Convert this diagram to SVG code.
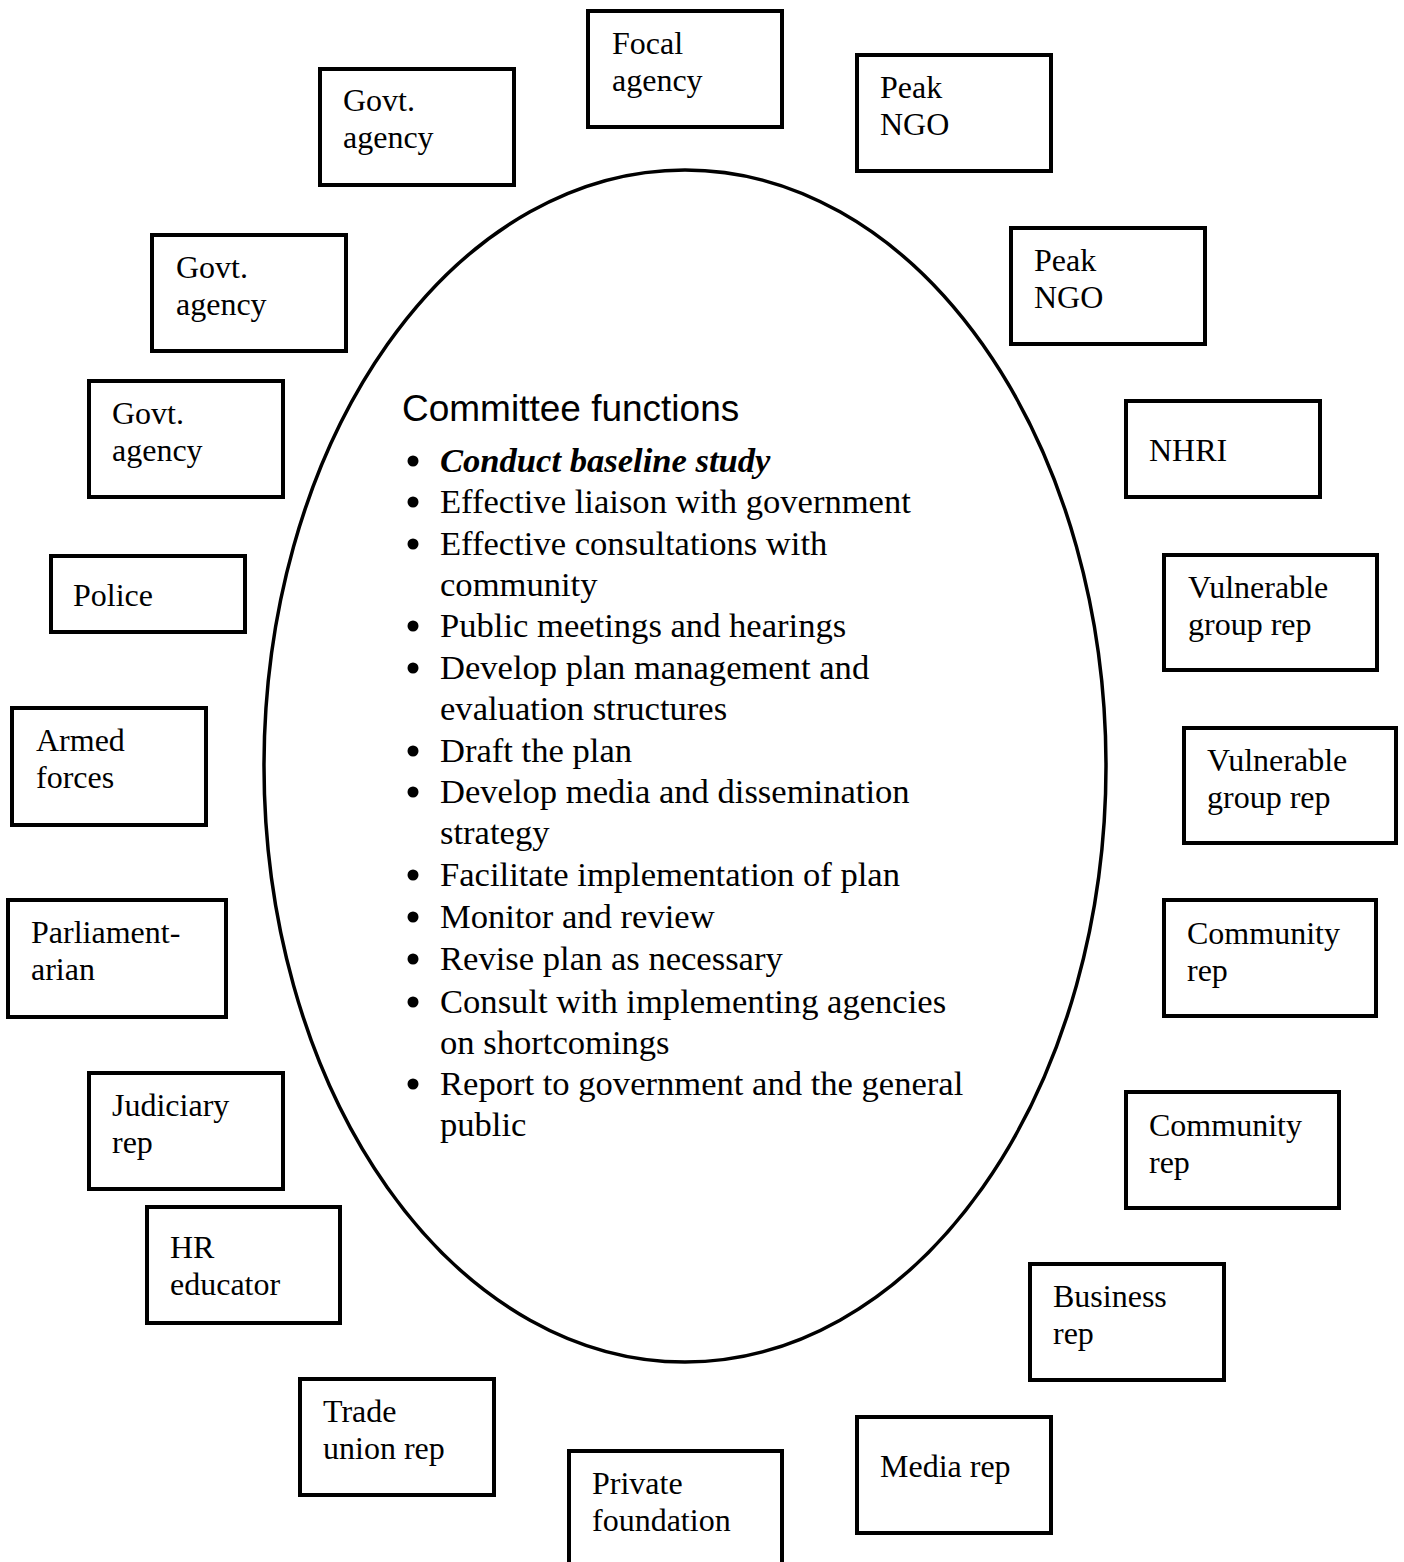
<svg xmlns="http://www.w3.org/2000/svg" width="1404" height="1562" viewBox="0 0 1404 1562">
<style>
.box{fill:#fff;stroke:#000;stroke-width:4}
.bt{font-family:"Liberation Serif","Times New Roman",serif;font-size:32px;fill:#000}
.li{font-family:"Liberation Serif","Times New Roman",serif;font-size:34.6px;fill:#000}
.bi{font-weight:bold;font-style:italic}
.title{font-family:"Liberation Sans",Arial,sans-serif;font-size:37px;fill:#000}
.dot{fill:#000}
</style>
<rect width="1404" height="1562" fill="#fff"/>
<g id="committee">
<ellipse cx="685" cy="766" rx="421" ry="596" fill="none" stroke="#000" stroke-width="3.5"/>
<text class="title" x="402" y="421">Committee functions</text>
<g class="dot">
<circle cx="413" cy="461" r="5.5"/>
<circle cx="413" cy="502" r="5.5"/>
<circle cx="413" cy="544" r="5.5"/>
<circle cx="413" cy="626" r="5.5"/>
<circle cx="413" cy="668" r="5.5"/>
<circle cx="413" cy="751" r="5.5"/>
<circle cx="413" cy="792" r="5.5"/>
<circle cx="413" cy="875" r="5.5"/>
<circle cx="413" cy="917" r="5.5"/>
<circle cx="413" cy="959" r="5.5"/>
<circle cx="413" cy="1002" r="5.5"/>
<circle cx="413" cy="1084" r="5.5"/>
</g>
<text class="li bi" x="440" y="472">Conduct baseline study</text>
<text class="li" x="440" y="513">Effective liaison with government</text>
<text class="li" x="440" y="555">Effective consultations with</text>
<text class="li" x="440" y="596">community</text>
<text class="li" x="440" y="637">Public meetings and hearings</text>
<text class="li" x="440" y="679">Develop plan management and</text>
<text class="li" x="440" y="720">evaluation structures</text>
<text class="li" x="440" y="762">Draft the plan</text>
<text class="li" x="440" y="803">Develop media and dissemination</text>
<text class="li" x="440" y="844">strategy</text>
<text class="li" x="440" y="886">Facilitate implementation of plan</text>
<text class="li" x="440" y="928">Monitor and review</text>
<text class="li" x="440" y="970">Revise plan as necessary</text>
<text class="li" x="440" y="1013">Consult with implementing agencies</text>
<text class="li" x="440" y="1054">on shortcomings</text>
<text class="li" x="440" y="1095">Report to government and the general</text>
<text class="li" x="440" y="1136">public</text>
</g>
<g id="connectors"></g>
<g id="focal"><rect class="box" x="588" y="11" width="194" height="116"/><text class="bt" x="612" y="54">Focal</text><text class="bt" x="612" y="91">agency</text></g>
<g id="peak1"><rect class="box" x="857" y="55" width="194" height="116"/><text class="bt" x="880" y="98">Peak</text><text class="bt" x="880" y="135">NGO</text></g>
<g id="govt1"><rect class="box" x="320" y="69" width="194" height="116"/><text class="bt" x="343" y="111">Govt.</text><text class="bt" x="343" y="148">agency</text></g>
<g id="govt2"><rect class="box" x="152" y="235" width="194" height="116"/><text class="bt" x="176" y="278">Govt.</text><text class="bt" x="176" y="315">agency</text></g>
<g id="peak2"><rect class="box" x="1011" y="228" width="194" height="116"/><text class="bt" x="1034" y="271">Peak</text><text class="bt" x="1034" y="308">NGO</text></g>
<g id="govt3"><rect class="box" x="89" y="381" width="194" height="116"/><text class="bt" x="112" y="424">Govt.</text><text class="bt" x="112" y="461">agency</text></g>
<g id="nhri"><rect class="box" x="1126" y="401" width="194" height="96"/><text class="bt" x="1149" y="461">NHRI</text></g>
<g id="police"><rect class="box" x="51" y="556" width="194" height="76"/><text class="bt" x="73" y="606">Police</text></g>
<g id="vuln1"><rect class="box" x="1164" y="555" width="213" height="115"/><text class="bt" x="1188" y="598">Vulnerable</text><text class="bt" x="1188" y="635">group rep</text></g>
<g id="armed"><rect class="box" x="12" y="708" width="194" height="117"/><text class="bt" x="36" y="751">Armed</text><text class="bt" x="36" y="788">forces</text></g>
<g id="vuln2"><rect class="box" x="1184" y="728" width="212" height="115"/><text class="bt" x="1207" y="771">Vulnerable</text><text class="bt" x="1207" y="808">group rep</text></g>
<g id="parl"><rect class="box" x="8" y="900" width="218" height="117"/><text class="bt" x="31" y="943">Parliament-</text><text class="bt" x="31" y="980">arian</text></g>
<g id="comm1"><rect class="box" x="1164" y="900" width="212" height="116"/><text class="bt" x="1187" y="944">Community</text><text class="bt" x="1187" y="981">rep</text></g>
<g id="judiciary"><rect class="box" x="89" y="1073" width="194" height="116"/><text class="bt" x="112" y="1116">Judiciary</text><text class="bt" x="112" y="1153">rep</text></g>
<g id="comm2"><rect class="box" x="1126" y="1092" width="213" height="116"/><text class="bt" x="1149" y="1136">Community</text><text class="bt" x="1149" y="1173">rep</text></g>
<g id="hr"><rect class="box" x="147" y="1207" width="193" height="116"/><text class="bt" x="170" y="1258">HR</text><text class="bt" x="170" y="1295">educator</text></g>
<g id="business"><rect class="box" x="1030" y="1264" width="194" height="116"/><text class="bt" x="1053" y="1307">Business</text><text class="bt" x="1053" y="1344">rep</text></g>
<g id="trade"><rect class="box" x="300" y="1379" width="194" height="116"/><text class="bt" x="323" y="1422">Trade</text><text class="bt" x="323" y="1459">union rep</text></g>
<g id="media"><rect class="box" x="857" y="1417" width="194" height="116"/><text class="bt" x="880" y="1477">Media rep</text></g>
<g id="private"><rect class="box" x="569" y="1451" width="213" height="130"/><text class="bt" x="592" y="1494">Private</text><text class="bt" x="592" y="1531">foundation</text></g>
</svg>
